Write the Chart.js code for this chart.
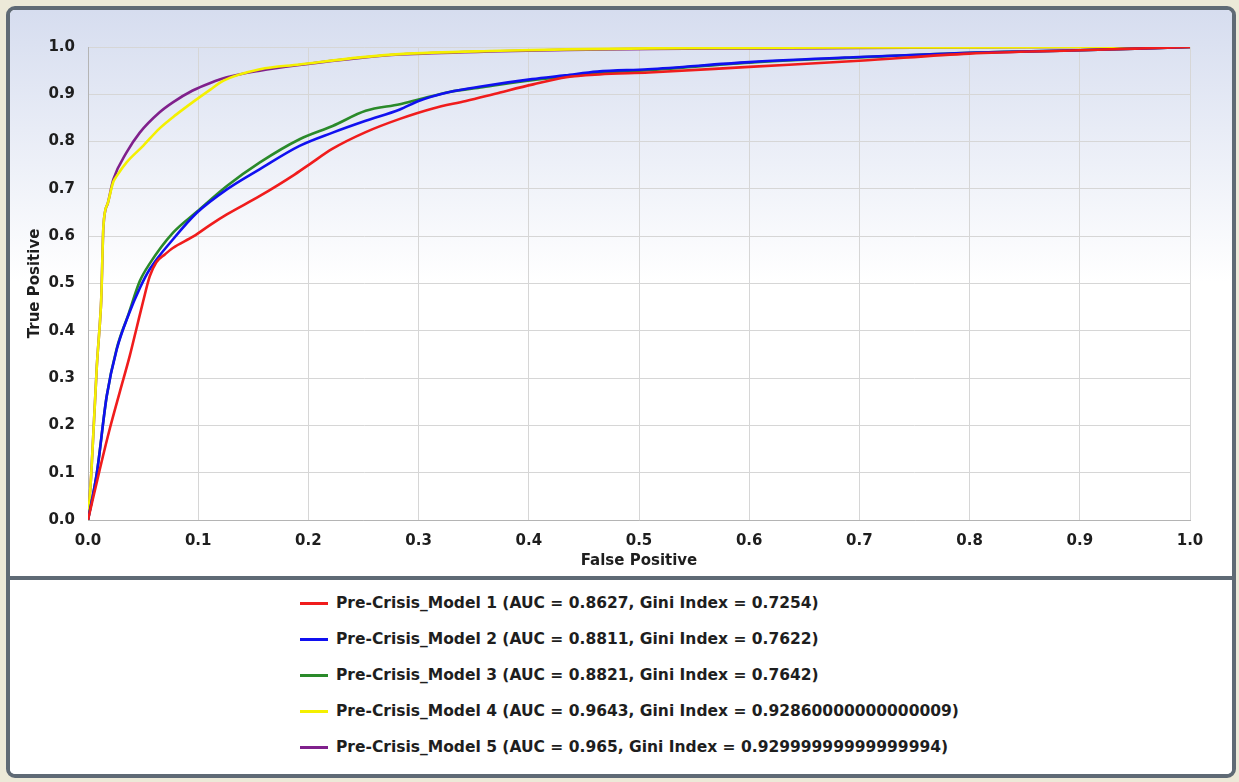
<!DOCTYPE html>
<html><head><meta charset="utf-8">
<script src="https://cdn.jsdelivr.net/npm/chart.js@4.4.0/dist/chart.umd.min.js"></script>
<style>
html,body{margin:0;padding:0;}
body{width:1239px;height:782px;background:#ece9d8;position:relative;overflow:hidden;font-family:"DejaVu Sans",Verdana,sans-serif;}
#frame{position:absolute;left:6px;top:6px;width:1222px;height:764px;border:4px solid #5f6a75;border-radius:9px;background:#fff;overflow:hidden;}
#chartbox{position:absolute;left:0;top:0;width:1222px;height:566px;background:linear-gradient(#d6ddef,#ffffff 48%);}
#sep{position:absolute;left:0;top:566px;width:1222px;height:4px;background:#5f6a75;}
#legend{position:absolute;left:0;top:570px;width:1222px;height:194px;background:#fff;}
#legend .row{position:absolute;left:290px;height:36px;display:flex;align-items:center;font:bold 15.5px "DejaVu Sans",Verdana,sans-serif;color:#1e1e1e;white-space:nowrap;}
#legend .sw{width:28px;height:3px;margin-right:8px;}
</style></head>
<body>
<div id="frame">
  <div id="chartbox"><canvas id="c" width="1222" height="566"></canvas></div>
  <div id="sep"></div>
  <div id="legend"></div>
</div>
<script>
const seriesLabels = [
  "Pre-Crisis_Model 1 (AUC = 0.8627, Gini Index = 0.7254)",
  "Pre-Crisis_Model 2 (AUC = 0.8811, Gini Index = 0.7622)",
  "Pre-Crisis_Model 3 (AUC = 0.8821, Gini Index = 0.7642)",
  "Pre-Crisis_Model 4 (AUC = 0.9643, Gini Index = 0.92860000000000009)",
  "Pre-Crisis_Model 5 (AUC = 0.965, Gini Index = 0.92999999999999994)"
];
const xTitle = "False Positive";
const yTitle = "True Positive";

const fpr1 = [0, 0.011, 0.020, 0.029, 0.038, 0.044, 0.050, 0.056, 0.062, 0.070, 0.077, 0.096, 0.111, 0.126, 0.156, 0.186, 0.201, 0.222, 0.252, 0.283, 0.313, 0.343, 0.374, 0.404, 0.434, 0.464, 0.509, 0.6, 0.7, 0.8, 0.9, 1.0];
const tpr1 = [0, 0.110, 0.195, 0.272, 0.348, 0.405, 0.462, 0.515, 0.545, 0.562, 0.575, 0.600, 0.624, 0.646, 0.685, 0.728, 0.752, 0.785, 0.820, 0.848, 0.870, 0.886, 0.904, 0.921, 0.936, 0.942, 0.946, 0.958, 0.971, 0.986, 0.993, 1.0];

const fpr2 = [0, 0.008, 0.017, 0.026, 0.037, 0.047, 0.056, 0.077, 0.099, 0.126, 0.156, 0.192, 0.222, 0.252, 0.283, 0.300, 0.328, 0.358, 0.403, 0.433, 0.462, 0.508, 0.6, 0.7, 0.8, 0.9, 1.0];
const tpr2 = [0, 0.099, 0.262, 0.360, 0.435, 0.490, 0.530, 0.593, 0.650, 0.699, 0.742, 0.791, 0.819, 0.844, 0.868, 0.886, 0.905, 0.917, 0.932, 0.940, 0.948, 0.953, 0.968, 0.979, 0.988, 0.993, 1.0];

const fpr3 = [0, 0.008, 0.017, 0.026, 0.037, 0.047, 0.056, 0.077, 0.099, 0.126, 0.156, 0.192, 0.222, 0.252, 0.283, 0.300, 0.328, 0.358, 0.403, 0.433, 0.462, 0.508, 0.6, 0.7, 0.8, 0.9, 1.0];
const tpr3 = [0, 0.099, 0.262, 0.362, 0.437, 0.505, 0.542, 0.607, 0.652, 0.706, 0.756, 0.805, 0.833, 0.865, 0.879, 0.889, 0.905, 0.915, 0.930, 0.937, 0.945, 0.951, 0.967, 0.978, 0.988, 0.993, 1.0];

const fpr4 = [0, 0.003, 0.008, 0.011, 0.012, 0.014, 0.018, 0.023, 0.026, 0.035, 0.050, 0.065, 0.080, 0.096, 0.111, 0.123, 0.156, 0.192, 0.247, 0.283, 0.374, 0.434, 0.510, 0.6, 0.7, 0.8, 0.9, 1.0];
const tpr4 = [0, 0.099, 0.325, 0.424, 0.466, 0.621, 0.670, 0.715, 0.727, 0.756, 0.791, 0.828, 0.857, 0.885, 0.910, 0.929, 0.953, 0.963, 0.978, 0.985, 0.992, 0.995, 0.997, 0.998, 0.999, 0.999, 1.0, 1.0];

const fpr5 = [0, 0.003, 0.008, 0.011, 0.012, 0.014, 0.018, 0.023, 0.035, 0.047, 0.065, 0.077, 0.095, 0.111, 0.126, 0.156, 0.192, 0.247, 0.283, 0.374, 0.434, 0.510, 0.6, 0.7, 0.8, 0.9, 1.0];
const tpr5 = [0, 0.099, 0.325, 0.424, 0.466, 0.620, 0.670, 0.720, 0.777, 0.819, 0.862, 0.883, 0.908, 0.924, 0.936, 0.950, 0.962, 0.977, 0.984, 0.991, 0.994, 0.996, 0.997, 0.998, 0.999, 1.0, 1.0];

const axisTicks = [0, 0.1, 0.2, 0.3, 0.4, 0.5, 0.6, 0.7, 0.8, 0.9, 1.0];

const fprList = [fpr1, fpr2, fpr3, fpr4, fpr5];
const tprList = [tpr1, tpr2, tpr3, tpr4, tpr5];
const lineColors = ["#f01c1c", "#1010f0", "#2a8a2a", "#f4f000", "#80208c"];

const datasets = seriesLabels.map((lab, i) => ({
  label: lab,
  data: fprList[i].map((x, j) => ({x: x, y: tprList[i][j]})),
  borderColor: lineColors[i],
  backgroundColor: lineColors[i],
  borderWidth: 2.6,
  pointRadius: 0,
  cubicInterpolationMode: 'monotone',
  fill: false
}));

const tickFont = {family: '"DejaVu Sans", Verdana, sans-serif', size: 15, weight: 'bold'};

new Chart(document.getElementById('c'), {
  type: 'line',
  data: {datasets: datasets},
  options: {
    responsive: false,
    animation: false,
    events: [],
    layout: {padding: {left: 0, right: 42, top: 37, bottom: 0}},
    plugins: {legend: {display: false}, tooltip: {enabled: false}},
    scales: {
      x: {
        type: 'linear', min: 0, max: 1,
        afterBuildTicks: s => { s.ticks = axisTicks.map(v => ({value: v})); },
        afterFit: s => { s.height = 56; },
        grid: {color: '#d6d6d6', lineWidth: 1, drawTicks: false},
        border: {color: '#b4b4b4', width: 1},
        ticks: {font: tickFont, color: '#1e1e1e', padding: 12, maxRotation: 0, callback: v => v.toFixed(1)},
        title: {display: true, text: xTitle, font: tickFont, color: '#1e1e1e', padding: {top: 0, bottom: 6}}
      },
      y: {
        type: 'linear', min: 0, max: 1,
        afterBuildTicks: s => { s.ticks = axisTicks.map(v => ({value: v})); },
        afterFit: s => { s.width = 78; },
        grid: {color: '#d6d6d6', lineWidth: 1, drawTicks: false},
        border: {color: '#b4b4b4', width: 1},
        ticks: {font: tickFont, color: '#1e1e1e', padding: 13, callback: v => v.toFixed(1)},
        title: {display: true, text: yTitle, font: tickFont, color: '#1e1e1e', padding: {top: 16, bottom: 0}}
      }
    }
  }
});

const leg = document.getElementById('legend');
seriesLabels.forEach((lab, i) => {
  const row = document.createElement('div');
  row.className = 'row';
  row.style.top = (5 + 36 * i) + 'px';
  const sw = document.createElement('span');
  sw.className = 'sw';
  sw.style.background = lineColors[i];
  const tx = document.createElement('span');
  tx.textContent = lab;
  row.appendChild(sw);
  row.appendChild(tx);
  leg.appendChild(row);
});
</script>
</body></html>
